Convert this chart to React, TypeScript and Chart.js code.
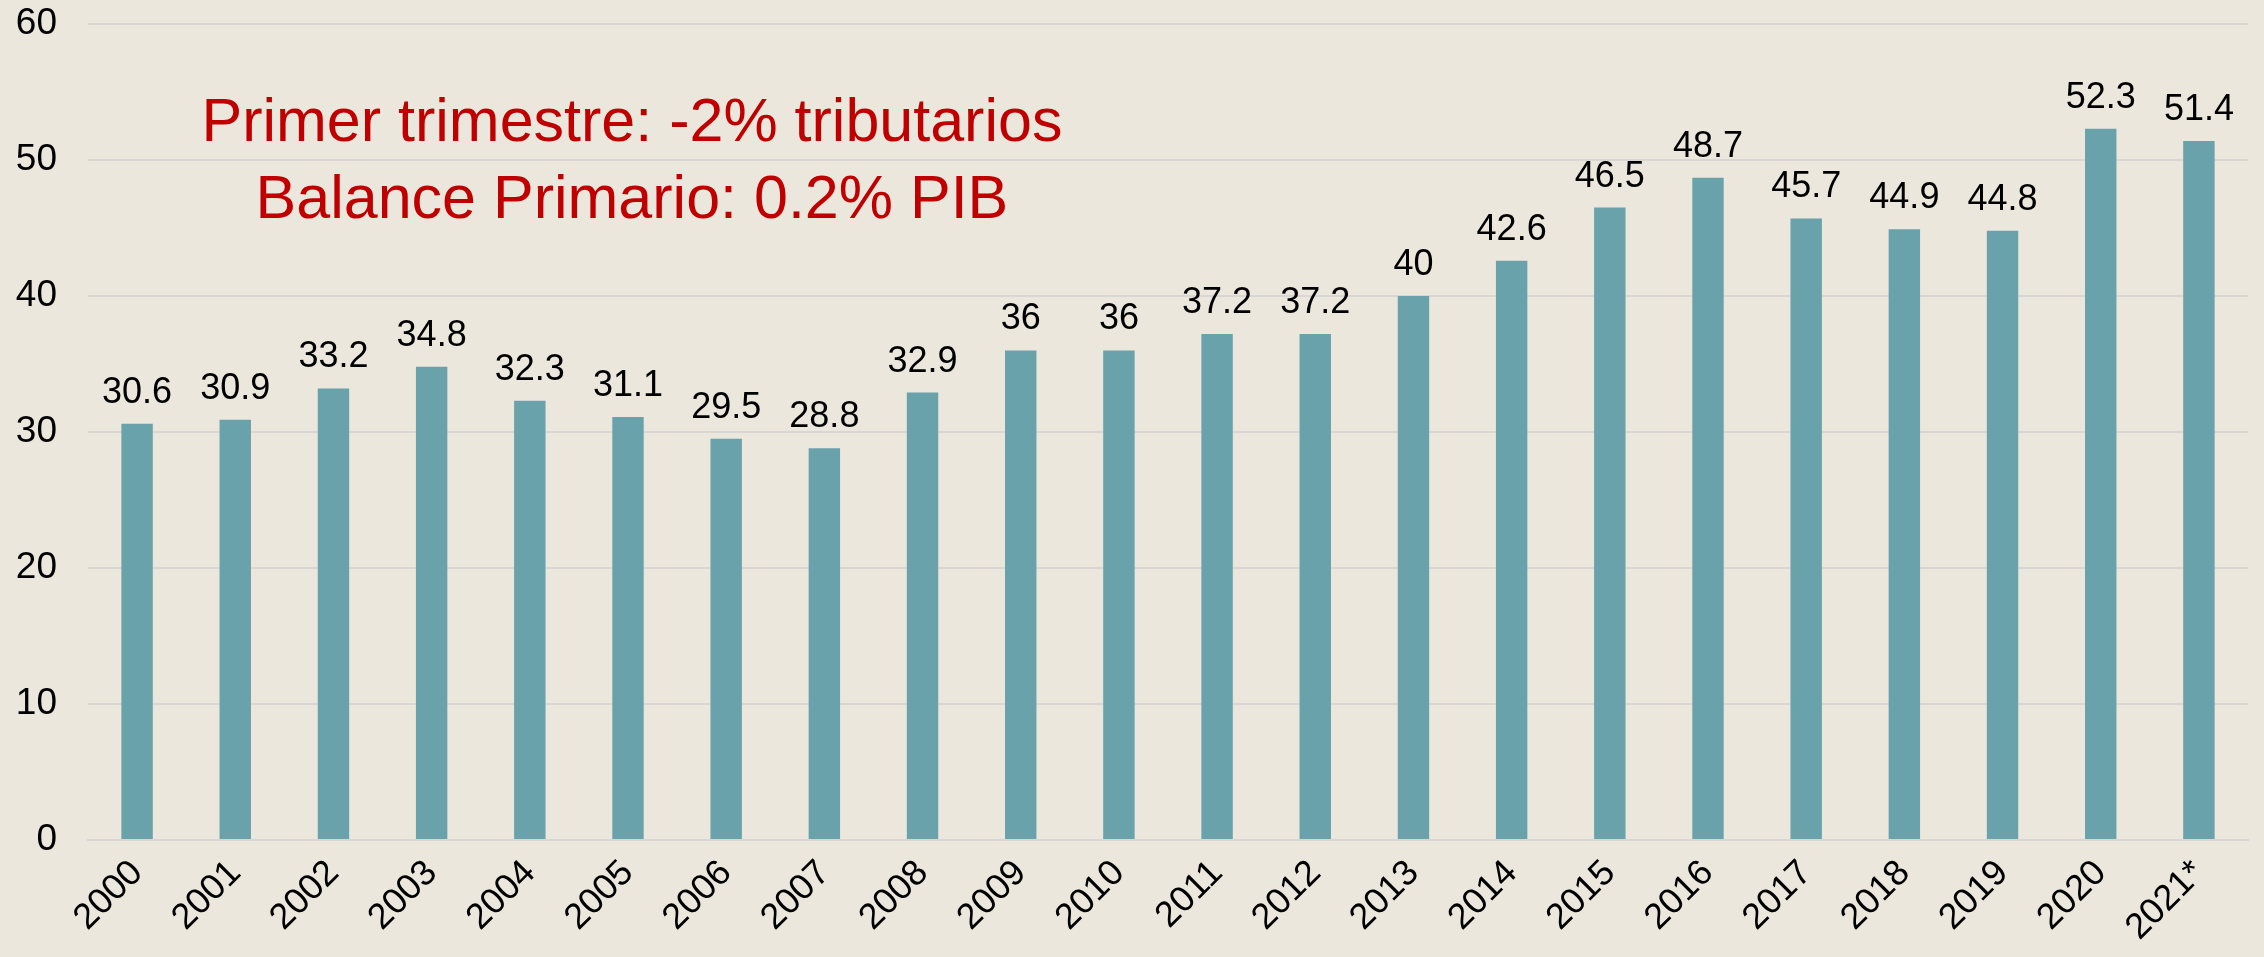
import React, { useEffect, useRef } from "react";
import { Chart, registerables } from "chart.js";

Chart.register(...registerables);

const categories = [
  "2000", "2001", "2002", "2003", "2004", "2005", "2006", "2007", "2008", "2009", "2010",
  "2011", "2012", "2013", "2014", "2015", "2016", "2017", "2018", "2019", "2020", "2021*",
];
const values = [
  30.6, 30.9, 33.2, 34.8, 32.3, 31.1, 29.5, 28.8, 32.9, 36, 36,
  37.2, 37.2, 40, 42.6, 46.5, 48.7, 45.7, 44.9, 44.8, 52.3, 51.4,
];
const annotationLines = ["Primer trimestre: -2% tributarios", "Balance Primario: 0.2% PIB"];
const annotationX = 5.04;
const annotationY = [51.4, 45.7];

const FONT = "'Liberation Sans', Arial, sans-serif";

const valueLabels = {
  id: "valueLabels",
  afterDatasetsDraw(chart: any) {
    const ctx = chart.ctx;
    const meta = chart.getDatasetMeta(0);
    ctx.save();
    ctx.font = `36px ${FONT}`;
    ctx.fillStyle = "#000000";
    ctx.textAlign = "center";
    ctx.textBaseline = "alphabetic";
    meta.data.forEach((el: any, i: number) => {
      ctx.fillText(String(values[i]), el.x, el.y - 21);
    });
    ctx.restore();
  },
};

const annotation = {
  id: "annotation",
  afterDraw(chart: any) {
    const ctx = chart.ctx;
    const xs = chart.scales.x;
    const ys = chart.scales.y;
    ctx.save();
    ctx.font = `61px ${FONT}`;
    ctx.fillStyle = "#C00000";
    ctx.textAlign = "center";
    ctx.textBaseline = "alphabetic";
    const x = xs.getPixelForValue(annotationX);
    annotationLines.forEach((line, i) => {
      ctx.fillText(line, x, ys.getPixelForValue(annotationY[i]));
    });
    ctx.restore();
  },
};

export default function App() {
  const ref = useRef<HTMLCanvasElement | null>(null);
  useEffect(() => {
    if (!ref.current) return;
    const chart = new Chart(ref.current, {
      type: "bar",
      data: {
        labels: categories,
        datasets: [
          {
            data: values,
            backgroundColor: "#6AA2AC",
            borderWidth: 0,
            barPercentage: 0.32,
            categoryPercentage: 1,
          },
        ],
      },
      options: {
        responsive: false,
        animation: false,
        maintainAspectRatio: false,
        layout: { padding: { left: 0, right: 16, top: 24, bottom: 0 } },
        plugins: { legend: { display: false }, tooltip: { enabled: false } },
        scales: {
          x: {
            grid: { display: false, drawTicks: false },
            border: { display: true, color: "#D9D7D3", width: 2 },
            ticks: {
              autoSkip: false,
              maxRotation: 45,
              minRotation: 45,
              padding: 12,
              color: "#000000",
              font: { family: FONT, size: 36 },
            },
            afterFit(scale: any) {
              scale.height = 117;
              scale.paddingLeft = 0;
              scale.paddingRight = 0;
            },
          },
          y: {
            min: 0,
            max: 60,
            grid: { color: "#D9D7D3", lineWidth: 2, drawTicks: false },
            border: { display: false },
            ticks: {
              stepSize: 10,
              padding: 31,
              color: "#000000",
              font: { family: FONT, size: 37 },
            },
            afterFit(scale: any) {
              scale.width = 88;
              scale.paddingTop = 0;
              scale.paddingBottom = 0;
            },
          },
        },
      },
      plugins: [valueLabels, annotation],
    });
    return () => chart.destroy();
  }, []);
  return (
    <div
      style={{
        position: "fixed",
        left: 0,
        top: 0,
        width: 2264,
        height: 957,
        background: "#EBE7DD",
      }}
    >
      <canvas ref={ref} width={2264} height={957} style={{ display: "block" }} />
    </div>
  );
}
